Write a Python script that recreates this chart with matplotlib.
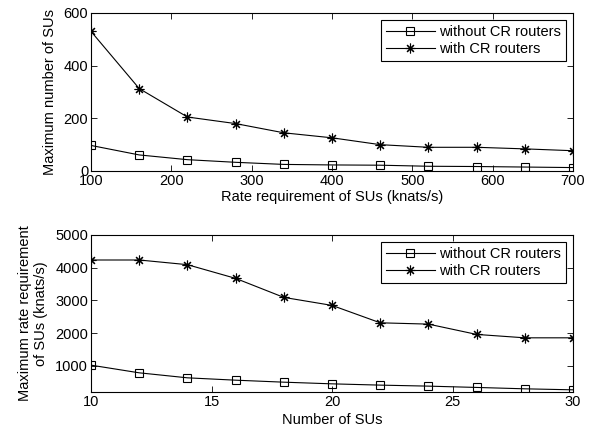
import matplotlib
matplotlib.use('Agg')
import matplotlib.pyplot as plt

plt.rcParams['font.family'] = ['Liberation Sans', 'DejaVu Sans']
plt.rcParams['font.size'] = 10.5

# top panel: rate requirement vs max number of SUs
rate = [100, 160, 220, 280, 340, 400, 460, 520, 580, 640, 700]
num_without = [97, 61, 43, 33, 25, 23, 22, 18, 17, 15, 13]
num_with = [530, 313, 205, 180, 145, 126, 100, 90, 90, 84, 77]

# bottom panel: number of SUs vs max rate requirement
n_sus = [10, 12, 14, 16, 18, 20, 22, 24, 26, 28, 30]
rate_without = [1020, 786, 633, 561, 500, 449, 410, 379, 339, 297, 266]
rate_with = [4235, 4235, 4092, 3673, 3092, 2847, 2315, 2275, 1960, 1856, 1856]

ASTERISK = (8, 2, 0)

fig = plt.figure(figsize=(5.93, 4.37), dpi=100)
ax1 = fig.add_axes([0.1535, 0.6087, 0.8128, 0.3616])
ax2 = fig.add_axes([0.1535, 0.103, 0.8128, 0.3593])


def style(ax):
    ax.tick_params(direction='in', top=True, right=True, length=4, width=0.6, pad=2)
    for s in ax.spines.values():
        s.set_linewidth(0.8)


def add_legend(ax):
    leg = ax.legend(loc='upper right', fancybox=False, edgecolor='black',
                    framealpha=1, borderpad=0.3, labelspacing=0.25,
                    handlelength=3.4, handletextpad=0.3, numpoints=1,
                    borderaxespad=0.5)
    leg.get_frame().set_linewidth(0.8)


ax1.plot(rate, num_without, color='black', lw=0.8, marker='s', ms=5.5,
         mfc='none', mew=0.8, label='without CR routers')
ax1.plot(rate, num_with, color='black', lw=0.8, marker=ASTERISK, ms=7,
         mew=0.8, label='with CR routers')
ax1.set_xlim(100, 700)
ax1.set_ylim(0, 600)
ax1.set_xticks(range(100, 701, 100))
ax1.set_yticks([0, 200, 400, 600])
ax1.set_xlabel('Rate requirement of SUs (knats/s)', labelpad=1.5)
ax1.set_ylabel('Maximum number of SUs', labelpad=5)
style(ax1)
add_legend(ax1)

ax2.plot(n_sus, rate_without, color='black', lw=0.8, marker='s', ms=5.5,
         mfc='none', mew=0.8, label='without CR routers')
ax2.plot(n_sus, rate_with, color='black', lw=0.8, marker=ASTERISK, ms=7,
         mew=0.8, label='with CR routers')
ax2.set_xlim(10, 30)
ax2.set_ylim(200, 5000)
ax2.set_xticks([10, 15, 20, 25, 30])
ax2.set_yticks([1000, 2000, 3000, 4000, 5000])
ax2.set_xlabel('Number of SUs', labelpad=3)
ax2.set_ylabel('Maximum rate requirement\nof SUs (knats/s)', labelpad=5)
style(ax2)
add_legend(ax2)

plt.savefig('out.png', dpi=100)
plt.close()
